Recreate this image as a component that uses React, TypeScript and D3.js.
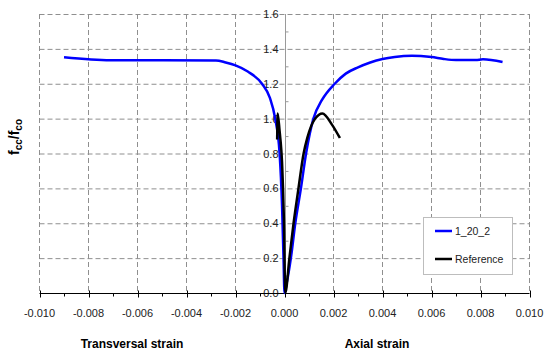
import { useEffect, useRef } from 'react';
import * as d3 from 'd3';

// strain (x), fcc/fco (y)
const blueStrain = [-0.009, -0.0071, -0.0028, -0.0024, -0.002, -0.0015, -0.00092, -0.0006, -0.00038, -0.0002, -0.0001, -0.00004, 0,
  0.00008, 0.00026, 0.00044, 0.00067, 0.00088, 0.00118, 0.00153, 0.00205, 0.0025, 0.003, 0.0035, 0.004, 0.0045, 0.0052, 0.006, 0.0065, 0.007, 0.0078, 0.0081, 0.0089];
const blueRatio = [1.352, 1.335, 1.334, 1.322, 1.305, 1.27, 1.2, 1.12, 1.0, 0.8, 0.5, 0.2, 0,
  0.05, 0.2, 0.4, 0.6, 0.8, 1.0, 1.107, 1.2, 1.258, 1.294, 1.322, 1.342, 1.354, 1.361, 1.353, 1.342, 1.336, 1.336, 1.34, 1.325];

const refStrain = [-0.0003, -0.00029, -0.00028, -0.0002, -0.00013, -0.0001, -0.00006, -0.00002, 0.00003,
  0.0002, 0.00037, 0.00057, 0.00078, 0.00093, 0.00125, 0.00155, 0.00195, 0.00226];
const refRatio = [0.88, 0.98, 1.03, 0.93, 0.82, 0.75, 0.6, 0.4, 0,
  0.2, 0.4, 0.6, 0.8, 0.89, 1.0, 1.03, 0.963, 0.889];

const xTicks = [-0.01, -0.008, -0.006, -0.004, -0.002, 0, 0.002, 0.004, 0.006, 0.008, 0.01];
const yTicks = [0, 0.2, 0.4, 0.6, 0.8, 1.0, 1.2, 1.4, 1.6];
const seriesNames = ['1_20_2', 'Reference'];

const App = () => {
  const svgRef = useRef<SVGSVGElement>(null);

  useEffect(() => {
    const svg = d3.select(svgRef.current);
    svg.selectAll('*').remove();

    const x = d3.scaleLinear().domain([-0.01, 0.01]).range([39.5, 529.5]);
    const y = d3.scaleLinear().domain([0, 1.6]).range([293, 14]);
    const font = 'Liberation Sans, Arial, sans-serif';

    // dashed grid
    const grid = svg.append('g').attr('stroke', '#8f8f8f').attr('stroke-dasharray', '5,3').attr('stroke-width', 1);
    grid.selectAll('.vg').data(xTicks.filter((d) => d !== 0)).enter().append('line')
      .attr('x1', (d) => x(d)).attr('x2', (d) => x(d)).attr('y1', y(1.6)).attr('y2', y(0));
    grid.selectAll('.hg').data(yTicks.filter((d) => d !== 0)).enter().append('line')
      .attr('x1', x(-0.01)).attr('x2', x(0.01)).attr('y1', (d) => y(d) + 0.5).attr('y2', (d) => y(d) + 0.5);

    // y axis at zero strain
    const x0 = Math.round(x(0)) + 0.5;
    svg.append('line').attr('x1', x0).attr('x2', x0).attr('y1', y(1.6)).attr('y2', y(0)).attr('stroke', '#9a9a9a');
    const yMinor = d3.range(1, 16, 2).map((i) => i / 10);
    svg.selectAll('.ym').data(yMinor).enter().append('line')
      .attr('x1', x0).attr('x2', x0 + 3).attr('y1', (d) => y(d) + 0.5).attr('y2', (d) => y(d) + 0.5).attr('stroke', '#9a9a9a');
    svg.selectAll('.yl').data(yTicks).enter().append('text')
      .attr('x', x0 - 7).attr('y', (d) => y(d) + 4).attr('text-anchor', 'end')
      .attr('font-family', font).attr('font-size', 11).attr('fill', '#222')
      .text((d) => d.toFixed(1));

    // x axis
    const yAx = 293.5;
    svg.append('line').attr('x1', x(-0.01)).attr('x2', x(0.01)).attr('y1', yAx).attr('y2', yAx).attr('stroke', '#000');
    svg.selectAll('.xt').data(xTicks).enter().append('line')
      .attr('x1', (d) => Math.round(x(d)) + 0.5).attr('x2', (d) => Math.round(x(d)) + 0.5)
      .attr('y1', yAx - 3).attr('y2', yAx + 4).attr('stroke', '#000');
    const xMinor = d3.range(-9, 10, 2).map((i) => i / 1000);
    svg.selectAll('.xm').data(xMinor).enter().append('line')
      .attr('x1', (d) => Math.round(x(d)) + 0.5).attr('x2', (d) => Math.round(x(d)) + 0.5)
      .attr('y1', yAx).attr('y2', yAx + 3).attr('stroke', '#000');
    svg.selectAll('.xl').data(xTicks).enter().append('text')
      .attr('x', (d) => x(d)).attr('y', 317).attr('text-anchor', 'middle')
      .attr('font-family', font).attr('font-size', 11).attr('fill', '#222')
      .text((d) => d.toFixed(3));

    // axis titles
    svg.append('text').attr('x', 132).attr('y', 348).attr('text-anchor', 'middle')
      .attr('font-family', font).attr('font-size', 12).attr('font-weight', 'bold').text('Transversal strain');
    svg.append('text').attr('x', 377).attr('y', 348).attr('text-anchor', 'middle')
      .attr('font-family', font).attr('font-size', 12).attr('font-weight', 'bold').text('Axial strain');
    const yt = svg.append('text').attr('transform', 'translate(19,137) rotate(-90)').attr('text-anchor', 'middle')
      .attr('font-family', font).attr('font-size', 14).attr('font-weight', 'bold');
    yt.append('tspan').text('f');
    yt.append('tspan').attr('font-size', 10).attr('dy', 3).text('cc');
    yt.append('tspan').attr('dy', -3).text('/f');
    yt.append('tspan').attr('font-size', 10).attr('dy', 3).text('co');

    // curves
    const line = d3.line<number>().x((d) => x(d)).curve(d3.curveMonotoneX);
    svg.append('path').attr('d', line.y((d, i) => y(blueRatio[i]))(blueStrain))
      .attr('fill', 'none').attr('stroke', '#0000ff').attr('stroke-width', 2.5);
    svg.append('path').attr('d', line.y((d, i) => y(refRatio[i]))(refStrain))
      .attr('fill', 'none').attr('stroke', '#000').attr('stroke-width', 2.5);

    // legend
    const lg = svg.append('g');
    lg.append('rect').attr('x', 423.5).attr('y', 217.5).attr('width', 89).attr('height', 57)
      .attr('fill', '#fff').attr('stroke', '#bdbdbd');
    const colors = ['#0000ff', '#000'];
    seriesNames.forEach((name, i) => {
      const ly = 231 + i * 28;
      lg.append('line').attr('x1', 435).attr('x2', 452).attr('y1', ly).attr('y2', ly)
        .attr('stroke', colors[i]).attr('stroke-width', 2.5);
      lg.append('text').attr('x', 455).attr('y', ly + 4).attr('font-family', font).attr('font-size', 10.5)
        .attr('fill', '#222').text(name);
    });
  }, []);

  return <svg ref={svgRef} width={550} height={355} style={{ position: 'absolute', left: 0, top: 0 }}></svg>;
};

export default App;
